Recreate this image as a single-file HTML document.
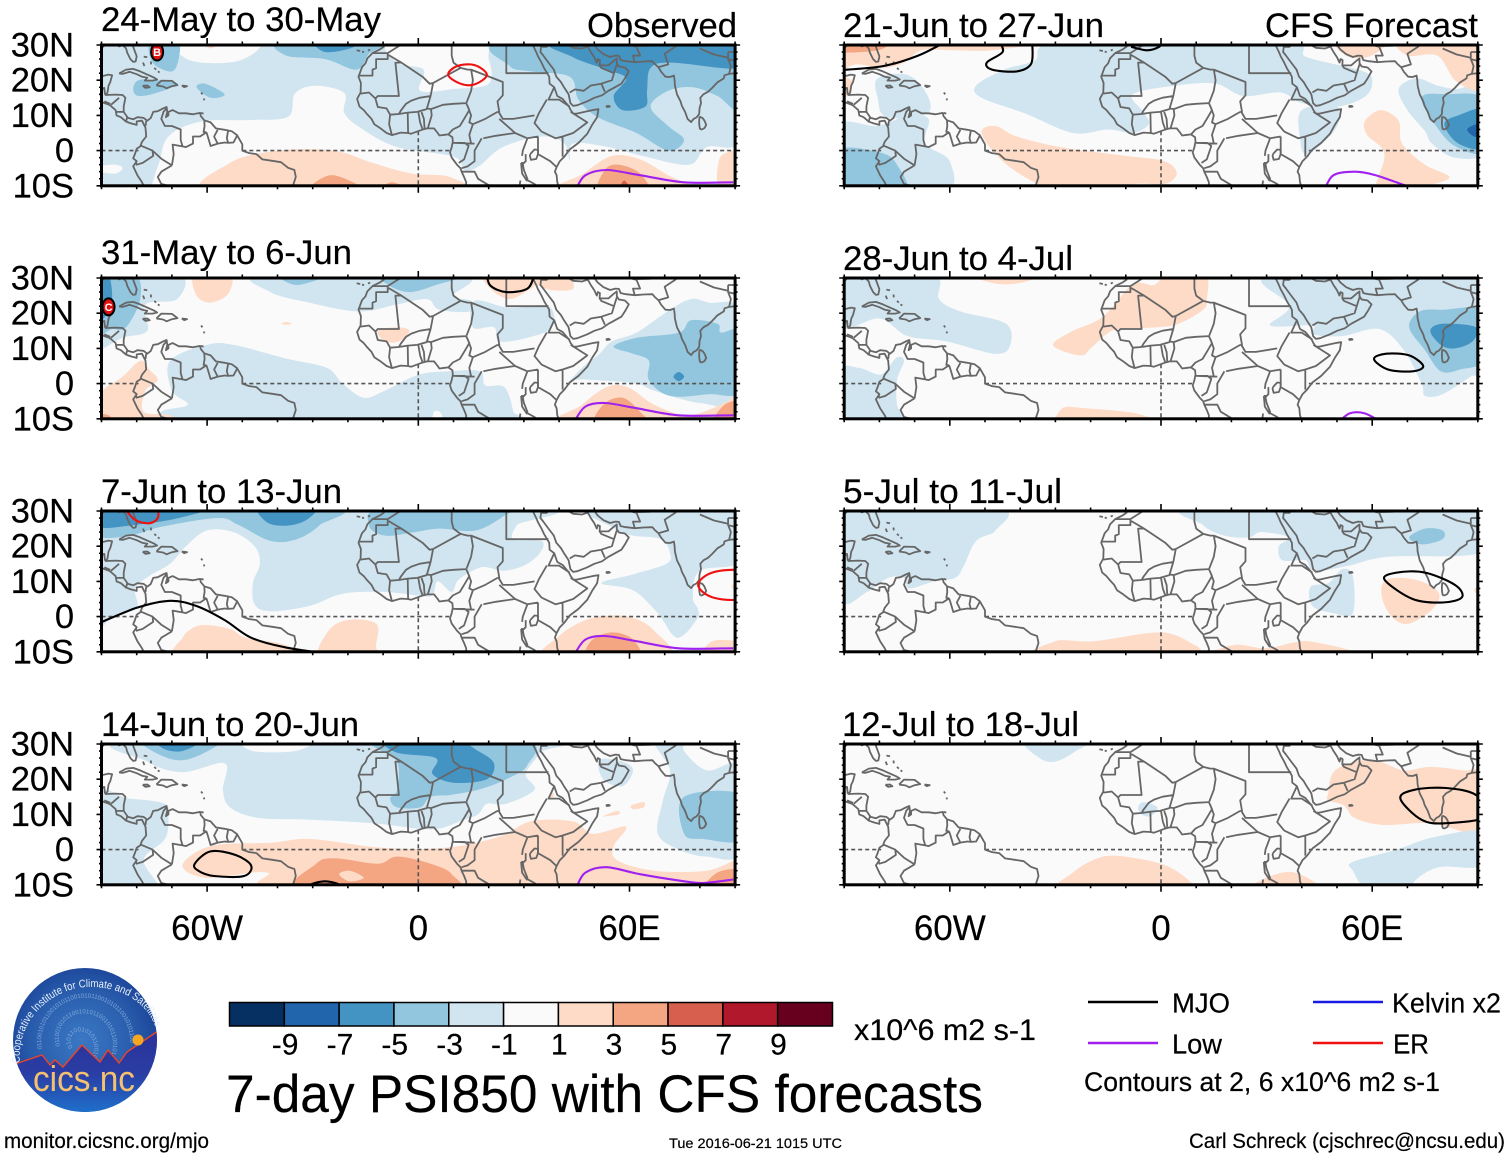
<!DOCTYPE html>
<html lang="en">
<head>
<meta charset="utf-8">
<title>7-day PSI850 with CFS forecasts</title>
<style>
html,body{margin:0;padding:0;background:#fff;}
svg{display:block;}
text{font-family:"Liberation Sans",Arial,sans-serif;fill:#000;stroke:#000;stroke-width:.2px;}
</style>
</head>
<body>
<svg id="chart" xmlns="http://www.w3.org/2000/svg" width="1510" height="1158" viewBox="0 0 1510 1158">
<rect x="0" y="0" width="1510" height="1158" fill="#fff"/>
<g id="panels"></g>
<g id="colorbar"></g>
<text x="854" y="1040" font-size="30" textLength="182" lengthAdjust="spacingAndGlyphs">x10^6 m2 s-1</text>
<text x="226" y="1112" font-size="53" textLength="757" lengthAdjust="spacingAndGlyphs">7-day PSI850 with CFS forecasts</text>
<g>
<line x1="1088" x2="1158" y1="1002" y2="1002" stroke="#000" stroke-width="2.6"/>
<text x="1172" y="1012.5" font-size="28" textLength="58" lengthAdjust="spacingAndGlyphs">MJO</text>
<line x1="1088" x2="1158" y1="1043" y2="1043" stroke="#a020f0" stroke-width="2.6"/>
<text x="1172" y="1053.5" font-size="28" textLength="50" lengthAdjust="spacingAndGlyphs">Low</text>
<line x1="1313" x2="1383" y1="1002" y2="1002" stroke="#1a1ae6" stroke-width="2.6"/>
<text x="1392" y="1012.5" font-size="28" textLength="109" lengthAdjust="spacingAndGlyphs">Kelvin x2</text>
<line x1="1313" x2="1383" y1="1043" y2="1043" stroke="#f01010" stroke-width="2.6"/>
<text x="1393" y="1053.5" font-size="28" textLength="36" lengthAdjust="spacingAndGlyphs">ER</text>
<text x="1084" y="1091" font-size="27" textLength="356" lengthAdjust="spacingAndGlyphs">Contours at 2, 6 x10^6 m2 s-1</text>
</g>
<text x="4" y="1148" font-size="21" textLength="205" lengthAdjust="spacingAndGlyphs">monitor.cicsnc.org/mjo</text>
<text x="669" y="1148" font-size="14" textLength="173" lengthAdjust="spacingAndGlyphs">Tue 2016-06-21 1015 UTC</text>
<text x="1189" y="1148" font-size="21" textLength="316" lengthAdjust="spacingAndGlyphs">Carl Schreck (cjschrec@ncsu.edu)</text>
<g>
<defs>
<radialGradient id="logoSky" cx="0.48" cy="0.5" r="0.6">
<stop offset="0" stop-color="#3a78c4"/><stop offset="0.55" stop-color="#2a5fae"/><stop offset="1" stop-color="#173c92"/>
</radialGradient>
<linearGradient id="logoLand" x1="0" y1="0" x2="0" y2="1">
<stop offset="0" stop-color="#2b2f98"/><stop offset="0.5" stop-color="#2a3ea4"/><stop offset="1" stop-color="#1c7ad2"/>
</linearGradient>
<clipPath id="logoClip"><circle cx="85" cy="1040" r="72"/></clipPath>
<path id="logoArc" d="M20 1063 C16 1020 52 988 88 987 C122 986 150 1004 157 1032"/>
<path id="logoSpiral" d="M73 1047 C66 1040 74 1028 84 1032 C96 1036 97 1052 90 1060 M60 1046 C54 1024 72 1010 90 1014 C108 1018 116 1036 112 1054 M42 1050 C36 1018 64 994 92 998 C116 1002 132 1022 130 1044"/>
</defs>
<circle cx="85" cy="1040" r="72" fill="url(#logoSky)"/>
<text font-size="6" style="fill:#7fa8da;stroke:none"><textPath href="#logoSpiral">0101100101011001010110010101100101011001010110010101100101011001010110010101100101011001010110010101100101011001010110010101100101</textPath></text>
<g clip-path="url(#logoClip)">
<path d="M10 1066 L18 1063 L42 1055 L50 1065 L55 1060 L63 1067 L82 1045 L100 1062 L108 1050 L119 1063 L127 1052 L155 1033 L165 1028 L165 1120 L10 1120 Z" fill="url(#logoLand)" stroke="#e8452a" stroke-width="1.4"/>
</g>
<circle cx="138" cy="1040" r="5.5" fill="#f5a623"/>
<text font-size="11" textLength="198" lengthAdjust="spacingAndGlyphs" style="fill:#e6f0fb;stroke:none"><textPath href="#logoArc">Cooperative Institute for Climate and Satellites</textPath></text>
<text x="33" y="1091" font-size="36" textLength="102" lengthAdjust="spacingAndGlyphs" style="fill:#f5c070;stroke:none">cics.nc</text>
</g>
</svg>
<script>
const panelTitles = ['24-May to 30-May','31-May to 6-Jun','7-Jun to 13-Jun','14-Jun to 20-Jun','21-Jun to 27-Jun','28-Jun to 4-Jul','5-Jul to 11-Jul','12-Jul to 18-Jul'];
const latTickLabels = ['30N','20N','10N','0','10S'];
const latTickValues = [30,20,10,0,-10];
const lonTickLabels = ['60W','0','60E'];
const lonTickValues = [-60,0,60];
const colorbarTicks = [-9,-7,-5,-3,-1,1,3,5,7,9];
const colorScale = ['#053061','#2166ac','#4393c3','#92c5de','#d1e5f0','#fafafa','#fddbc7','#f4a582','#d6604d','#b2182b','#67001f'];
const contourColors = {MJO:'#000000',Low:'#a020f0',ER:'#f01010'};

/* filled anomaly areas: [level, [lon,lat, lon,lat, ...]] painted in order */
const shadesA = [
[-2,[-91,31,92,31,92,3.5,82,1,77,-4,64.5,-1.7,54,1,44,2,43,-2.7,41.5,2,35,4,24,1,17,-4.6,13,-5.5,10,-1.7,-6,1,-15.6,5.9,-21,10.6,-21,16.3,-29,18.4,-35,16.3,-37,9.6,-48,8.7,-62,8.2,-71,4,-74,-4.5,-78,-12,-91,-12]],
[0,[-8,31,-6,25,1.5,23,0.5,17,10,17.5,20,19,20,26,17,31]],
[0,[-68.5,31,-64.5,25.5,-51,25.5,-45.5,31]],
[0,[-90.5,-4.5,-86,-4,-84,-5,-86,-6.5,-90,-6]],
[-4,[25,31,26,24,32,22.5,43,21,45.5,14.5,51,9.5,62,5,71,0,75.5,3,71,7,66,12.5,71,17,78,18,85,15.5,92,11.5,92,31]],
[-4,[-39,31,-37.5,27,-26.5,26,-17.5,23,-14,27.5,-10,31]],
[-4,[-76,31,-75.5,25,-70,22.5,-68,26.5,-68.5,31]],
[-4,[-81,17.5,-79.5,15.5,-74,16.5,-68.5,19,-74,20,-79.5,20]],
[-4,[-63,18,-60.5,19,-55,16,-59,15]],
[-6,[40,31,92,31,92,23.5,72,25,66,23.5,65,17,64.5,12.5,58,11.5,55.5,15.5,59,20.5,53.5,23,44,26.5]],
[-6,[-29,31,-26.5,28,-19.5,29,-17,31]],
[2,[-62,31,-59,29,-56.5,31]],
[2,[-58,-12,-53.5,-3.5,-40,0,-24,0,-13,-3.5,-2,-6.5,9,-7.5,9.5,-12]],
[2,[39.5,-12,47,-6.5,55,-1.5,63,-2.5,71,-7,78,-10,82,-12]],
[2,[85.5,-2.5,89.5,0,92,0,92,-12,85.5,-12]],
[4,[-31,-12,-25,-7,-15.5,-10.5,-14,-12]],
[4,[-11.5,-12,-7.5,-9,-2,-12]],
[4,[51.5,-12,53,-5.5,57,-4,63,-6.5,65,-12]],
[6,[57,-12,58.5,-8.5,60.5,-12]]
];
const shadesB = [
[-2,[-91,31,-68,31,-68.5,24,-77.5,22.5,-77,15,-84,13,-89.5,10,-91,10]],
[-2,[-44,31,-42,26,-31,23,-17,20.5,-6,22.5,2.5,24,6,21,15,20.5,15,23.5,10,25,12,31]],
[-2,[16,23.5,15.5,16,21.5,16,23,12,31,13,38,16,37,22,26,21.5]],
[-2,[42,-0.5,46.5,4.5,51.5,8.5,55,12,62,14.5,71.5,21,77.5,24,82.5,23,92,20.5,92,-4.5,80,-5.5,67,-2,62,0,50,1,44,1]],
[-2,[-70.5,6.5,-60,11,-52.5,11,-37,7,-26,4.5,-21.5,0,-15.5,-4,-9.5,-2,0,2.5,8.5,3.5,17.5,3.5,19,-0.5,24.5,-1,27,-8,27,-12,-69,-12,-73,-8,-65.5,-6,-70,-2]],
[0,[4,-12,4.5,-8,6.5,-8.5,7,-12]],
[-4,[-91,31,-80.5,31,-79,24,-83,16,-87,15.5,-91,15]],
[-4,[-39.5,31,-34.5,28,-26,31]],
[-4,[-9.5,31,-8.5,28,-2.5,26,5,28,13,31]],
[-4,[55.5,10.5,62,13,74,14.5,77.5,18,85,17,86,14.5,92,14.5,92,-2,82.5,-3,71.5,-3.5,65.5,1,65.5,6.5,61,8.5]],
[-6,[-91,31,-88,31,-87,24,-89,19,-91,19]],
[-6,[72.5,2,74,3.3,75.5,2,74,0.7]],
[2,[-63.5,31,-63,25,-59,23,-54,25.5,-53.5,31]],
[2,[-39,17,-37.5,17.5,-36,17,-37.5,16.7]],
[2,[-11.5,15,-6,16,-2.5,15,-5.5,12,-9.5,12]],
[2,[20,31,20.5,27,26,24,32,27,33.5,28,38,26.5,44,27,40.5,31]],
[2,[-91,-3.5,-84,2,-79,6.5,-76.5,4,-74,1,-77.5,-2,-78,-8,-70.5,-9,-69,-12,-91,-12]],
[2,[40.5,-12,46.5,-6,53.5,-1,59.5,-1,67,-6,76.5,-9,86,-6,92,-3,92,-12]],
[4,[50.5,-12,52.5,-6,58,-4,63,-8,65,-12]],
[4,[83.5,-12,87,-6,92,-5.5,92,-12]],
[4,[-91,-9,-88,-9,-86,-12,-91,-12]]
];
const shadesC = [
[-2,[-91,31,32,31,28,26,27,22,35,21.5,34.5,18,30,14.5,24,13,18,14,11.5,10.5,9.5,7,5.5,10,4,6,0,6,-9.5,7,-21.5,6.5,-31,3,-42,1.5,-46.5,3.5,-47,9.5,-45,15,-46.5,20,-52.5,24,-60,24.5,-66,20,-70.5,15,-76.5,11.5,-80.5,8,-80,2.5,-87,0,-91,-1]],
[-2,[49,31,56,25,61,23,69,22,71.5,18,70.5,15,61,12,52,9.5,61,7.5,68,1,73.5,-6,79,-1,79.5,2,78,5.5,80,13,92,16,92,31]],
[-4,[-91,31,-25,31,-28,26,-34.5,22,-42,21.5,-51,26,-57,28,-73,25.5,-82,23,-91,23]],
[-4,[-14,26,-9.5,23,-1,24,6,25,16.5,24.5,25,29,27.5,31,-9.5,31]],
[-6,[-91,31,-61,31,-68,28,-81,26,-91,25.5]],
[-6,[-45,31,-42.5,26.5,-36,26,-31,28,-30,31]],
[2,[-67.5,-12,-67,-6,-62,-2.5,-53.5,-3.5,-49,-6,-38,-8,-34.5,-12]],
[2,[-28,-12,-25.5,-4,-20,-1,-12,-2,-12,-8,-13,-12]],
[2,[36.5,-12,40,-5.5,49,-0.5,59.5,0,67,-4,70.5,-12]],
[2,[81,-12,83.5,-7,92,-7.5,92,-12]],
[2,[92,10.5,89,8.5,92,6.5]],
[4,[48.5,-12,49,-7,55,-4.5,61,-6.5,62.5,-12]]
];
const shadesD = [
[-2,[-79.5,31,-77,25,-67,22,-55,24.5,-55.5,17,-53.5,12,-45.5,9,-30.5,8.5,-13,7.5,-0.5,6,6,6,13,8.5,17,10,19.5,13,25,13,33,17,30.5,21.5,34.5,27.5,34.5,31]],
[0,[-49,31,-47,28,-35,28,-30.5,31]],
[-2,[-91,15,-82,14.5,-72,13,-71,9,-72,3,-78,-3,-74,-12,-91,-12]],
[-2,[51.5,25.5,52.5,20,58,18,61,22.5,58,25]],
[-2,[67,31,71.5,22.5,69.5,14,68,4.5,74,0,82,-2,92,-0.5,92,23.5,82,22.5,75.5,28,75.5,31]],
[-4,[-78,31,-72.5,26.5,-66,25.5,-58,29,-57,31]],
[-4,[-11.5,31,-6,25,-6,17,-8,14.5,-6,12,0.5,12,3.5,15,9,15.5,17,17,25,20,31,24,30,31]],
[-4,[75.5,15,92,15.5,92,3,81,3,75.5,4.5]],
[-6,[-74,31,-72,28.5,-67,28,-62,31]],
[-6,[-9,31,-6,27.5,5,26,4,21.5,10,19,19.5,20,21.5,24.5,17,28,10,31]],
[2,[-67,-4.5,-59,1,-41.5,2,-30.5,3,-10,0.5,7.5,0.5,22.5,3.5,32,8,44,8,49.5,4.5,59,6.5,55.5,1,56.5,-3,67,-6,82,-6,92,-3,92,-12,-34.5,-12,-43,-6.5,-60,-8]],
[2,[52.5,9.5,56.5,11,57,10,53.5,9.5]],
[2,[60.5,12.5,64,13.5,64,12,61,11.5]],
[2,[37,15,38,16.5,38.5,15]],
[4,[-34,-12,-29,-4,-23.5,-2.5,-11.5,-4,-6,-2,3.5,-4,9.5,-7,9,-12]],
[2,[-22.5,-7,-19.5,-6,-15.5,-8,-19.5,-9]],
[4,[81,-12,85,-6.5,92,-6,92,-12]]
];
const shadesE = [
[-2,[-52.5,18.5,-44.5,23,-36,25.5,-27.5,31,34,31,41.5,26.5,57.5,22.5,60,19,57.5,15,50,12.5,40,13.5,34,16.5,23.5,15.5,15.5,19,4.5,18.5,-8,16,-5,11,-3.5,7.5,-8,5,-15,6,-25,5,-38.5,10.5,-51,15]],
[-2,[39.5,3.5,40,11.5,50,12.5,49.5,6,41.5,-1]],
[-2,[-80.5,20.5,-72,21.5,-66.5,16,-66.5,10.5,-78,9.5,-80.5,15]],
[-2,[-92,7,-80.5,7,-72,10,-66,9,-67,2,-60,-3,-62,-12,-92,-12]],
[-2,[67.5,17.5,72.5,20.5,78.5,18.5,84,17.5,92,18,92,0,83.5,-2,77,2,75,5.5,70,11.5]],
[-4,[-92,0,-80,-0.5,-75,-4,-73,-12,-92,-12]],
[-4,[74,15,81,16,92,14.5,92,0,84,1,78.5,6.5]],
[-6,[80.5,7.5,84.5,10,92,11.5,92,1,84.5,2]],
[-8,[87,6,89.5,7.5,92,7.5,92,4,89,4]],
[2,[-92,31,-37,31,-47.5,28.5,-59.5,28.5,-68,28.5,-73,25,-79,23.5,-86.5,24.5,-92,23]],
[4,[-92,31,-78,31,-80.5,28.5,-92,28]],
[2,[-92,20.5,-88,20,-88.5,16,-92,15]],
[2,[-51,5,-47,7,-41,4,-28.5,1,-10,-1.5,1,-3,4.5,-6.5,1,-9.5,-8,-9.5,-26,-12,-35,-9.5,-45,-3]],
[2,[58,8.5,62.5,11.5,67.5,8.5,68.5,2,75,-4,82,-7.5,76,-10,70,-12,61,-12,63.5,-1,58.5,4.5]],
[2,[50,31,52.5,27,58.5,26.5,63.5,29.5,63.5,31]],
[2,[68.5,31,70,27,78.5,27,83.5,20,89.5,17,92,18,92,31]]
];
const shadesF = [
[-2,[-91,31,-65,31,-63,24,-57,20.5,-44,17,-43,10.5,-47.5,8.5,-61,12,-72,13.5,-80,18.5,-91,16]],
[-2,[-91,3.5,-86,4.5,-80,2.5,-77.5,4.5,-75,7.5,-73,6.5,-75,1,-75,-6,-73.5,-12,-91,-12]],
[-2,[31.5,31,36.5,22,31,16.5,43,16.5,43,14,51.5,13.5,62,15.5,69,9.5,74,0,75,-3.5,80,-3,88,2,92,4.5,92,31]],
[-4,[70.5,16,73.5,20.5,80,21,92,20.5,92,7,85,4,79.5,3.5,75,9.5]],
[-6,[76.5,15,80,17,89.5,16,88.5,12,83.5,10,79.5,11]],
[2,[-53,31,-47.5,28.5,-40.5,28.5,-34.5,31]],
[2,[-8.5,28,-5,28.5,-2,28,2.5,31,12.5,31,13,24,12,21,5,17,-1,16,-12,15.5,-15.5,14,-20,10,-22.5,8,-28.5,9.5,-30.5,11.5,-25,15,-16.5,19]],
[2,[-28,-7,-21.5,-7,-7,-8.5,-0.5,-12,-27.5,-12]]
];
const shadesG = [
[-2,[-91,31,-46.5,31,-47,24.5,-52.5,21.5,-56,14.5,-58.5,11,-64.5,10,-71.5,8,-73,11,-77.5,11,-83.5,7,-91,5]],
[-2,[11,31,12,26,18,23,25,22.5,28.5,24,36.5,22.5,33.5,20,34.5,16,41,16,43.5,13,53.5,14.5,64.5,17,92,18.5,92,31]],
[-2,[42.5,8.5,47.5,9.5,51.5,13.5,54.5,11.5,54.5,1,49,1,43,3]],
[-4,[70.5,22.5,75,25,80,24.5,80,22,74,20.5]],
[2,[63,9.5,67,11,74,10,79,6.5,77,2,70.5,-2,66,-0.5,63,4.5]],
[2,[92,9.5,89,7.5,92,5]],
[2,[-31,-12,-30,-7,-19,-7,0,-4.5,9.5,-8,13,-10,21.5,-8,30,-9,42,-7,52.5,-12]]
];
const shadesH = [
[-2,[-38.5,31,-34.5,26,-30,25,-24.5,27.8,-21,31]],
[-2,[-6.5,12,-5,13.5,-1,12,-3,9.5,-5.5,10]],
[2,[47.5,16,49,22,55,25,62,25,69,22.5,76.5,23.5,86,22.5,92,21.5,92,5,76.5,7.5,63,7,55,9,52,12.5,47.5,14]],
[2,[-27.5,-12,-25,-6.5,-16.5,-2,-7,-2.5,2.5,-5,9.5,-10,12,-12]],
[2,[25,-12,30,-8,38,-6.5,45.5,-12]],
[-2,[54.5,-3.5,67,0,77.5,3.5,92,5,92,-4.5,79,-5,72,-9,72,-12,59.5,-12,54.5,-6]]
];

/* contours: [wave type, closed?, [lon,lat, ...]] */
const contoursA = [
['Low',false,[45,-10.5,47.5,-7,53.5,-5.5,63,-7,75.5,-9,89.5,-9]],
['ER',true,[8.5,21.5,11,24,16,24.3,19.5,21.5,16,18.8,12,19]]
];
const contoursB = [
['Low',false,[44.5,-10.5,47.5,-6.5,53,-5.5,62,-7,74,-9,89.5,-9]],
['MJO',false,[19.5,31,20.5,27.8,25,26,31,27,33,31]]
];
const contoursC = [
['Low',false,[44.5,-10.5,47.5,-6.5,53,-5.5,62,-7,74,-9,89.5,-9]],
['ER',false,[-83.5,31,-80.5,27.5,-76.5,26.5,-74,28,-74,31]],
['ER',true,[79.5,9,83.5,12.5,92,13,98,9,92,5,83.5,5.5]],
['MJO',false,[-91,-2,-80,2.5,-70.5,4.5,-63,3,-55,-1,-47.5,-6,-38,-8.7,-28.5,-10.2,-25,-10.8]]
];
const contoursD = [
['Low',false,[45,-10.5,47.5,-6.5,53.5,-5,63,-7,75.5,-9,81,-9.5,89.5,-8.5]],
['MJO',true,[-63.5,-4,-59,-0.5,-52,-1.5,-47.5,-4.5,-49.5,-7.5,-58,-7.5,-62.5,-6]],
['MJO',true,[-30.5,-10,-26.5,-9,-22.5,-10,-26.5,-11]]
];
const contoursE = [
['MJO',false,[-92,22.8,-79,24,-69,27,-61,31]],
['MJO',false,[-46,31,-45,28,-49.5,25,-48,23,-41,22.5,-37,24.5,-36.5,29,-37,31]],
['MJO',false,[-8.5,29.5,-4,28.5,-0.5,29.5,0.5,31]],
['Low',false,[46.5,-11,49,-7,55,-6,61,-7,71,-10.5]],
['Low',false,[86.5,-10,90,-10]]
];
const contoursF = [
['MJO',true,[60.5,7,64,8.5,70.5,8,74.5,5,71.5,3.5,64.5,4]],
['Low',false,[50,-11.5,53.5,-8.5,58,-8.5,63.5,-11.5]]
];
const contoursG = [
['MJO',true,[63.5,10.5,67,12.5,75,12.5,83.5,9,85.5,5.5,80,4,71.5,5]]
];
const contoursH = [
['MJO',true,[68,14.5,72,17,81,17.5,89.5,15.5,93,9.5,81,7.5,74,8.5]]
];
const stormsA = [['B',-74.2,28]];
const stormsB = [['C',-88,21.8]];

const coastLines = [
[-9.8,31.5,-9.7,30,-9.8,29.5,-11,28.7,-13,27.7,-14.5,26.2,-15,24.8,-16,23.7,-17,21,-16.3,19.2,-16.4,16.5,-17.4,14.7,-16.7,12.5,-15.5,11.5,-14.7,10.5,-13.3,9,-12.5,7.5,-11,6.5,-9,5,-7.5,4.4,-5,5.1,-3,5,-2,4.8,1,5.9,2.5,6.3,4.5,6.3,5.5,5,6,4.3,7.5,4.5,8.5,4.6,9.7,3.8,9.8,2.5,9.5,1,9,-0.5,9.5,-2,11,-4,12,-5,12.3,-6,13,-7.5,13.6,-9,13.5,-12],
[40.5,-12,39.5,-9,39.3,-7,38.8,-6,39.3,-4.7,40.2,-3,41.5,-1.7,43,0.3,45.5,2.2,48,4.8,49.5,7.5,50.8,9.5,51.2,11.8,50,11.6,48,11.2,45,10.5,44,10.5,43.3,11.5,42.8,12.5,41,14.7,39.5,15.5,38.6,18,37.3,19,37.2,21,35.7,23.5,35,25,34,26.8,33.5,28,33,29,32.5,30,32.5,31],
[34.9,31,34.9,29.5,34.7,28,35.5,27,37,25,38.5,23,39.2,21,40.5,19.5,41.5,17.8,42.7,16,43.2,13.5,44,12.7,45.2,12.9,48,14,50,15,52.2,15.7,54,17,55.5,17.8,57.7,19,58.7,20.5,59.8,22.5,58.7,23.6,57,23.9,56.4,24.8,56.4,26.2,55.5,25.5,54,24.2,52.5,24.2,51.5,24.2,51.6,25.7,51,26,50.7,25,50,26.5,49,28,48,29.8,48.8,30.3,50,30,51,28.7,52.6,27.4,54.5,26.6,56,27,57,26.9,57.5,25.7,59,25.4,61.5,25.1,64,25.3,66.5,25.4,67.2,24.6,68.2,23.7,69,22.4,70.2,21,71.5,20.9,72.6,21.3,72.8,20,72.9,18.5,73.5,16,74.5,14,74.9,12.7,75.8,11,76.5,9,77.5,8.1,78.2,9,79,9.4,79.8,10.4,79.9,12,80.3,13.5,80.1,15,81,16,82.3,16.7,83.5,17.8,85,19.4,86.8,20.5,87,21.4,88.3,21.8,90,22,91.5,22.5,92,21],
[79.9,9.7,80.8,9.2,81.3,8.5,81.8,7.3,81.3,6.4,80.5,6,80,6.2,79.8,7.5,79.8,8.5,79.9,9.7],
[53.3,12.6,54.2,12.7,54.4,12.5,53.6,12.4,53.3,12.6],
[31.8,-1,33,0.3,34,0.2,34,-1,33.5,-2.4,32,-2.6,31.7,-1.5,31.8,-1],
[29.2,-3.5,29.5,-6.5,30.8,-8.5,31,-8,30,-5.5,29.6,-3.5,29.2,-3.5],
[-92,29.5,-90,29.1,-89,30,-86,30.4,-85,29.6,-84,30,-83,29,-82.7,27.8,-81.8,26,-81,25.2,-80.3,25.3,-80,26.8,-81,29.5,-81.5,31],
[-92,18.6,-91,19,-90.5,20,-90,21.1,-88,21.6,-87,21.4,-87.5,19.5,-88,18.4,-88.3,16.5,-88.8,15.8,-86,15.9,-84,15.8,-83.2,15,-83.7,12.5,-83.7,11,-82.5,9.3,-81,8.9,-79.8,9.5,-78,9.3,-77,8.5,-76,9.3,-75.3,11,-74,11.2,-72.5,12,-71.5,12.4,-71.3,11,-71.7,9.5,-71,10,-71,11,-69.8,11.5,-68,10.6,-66,10.6,-64,10.3,-62,10.7,-61.8,9.8,-60.8,8.6,-59,8,-57.5,6.3,-55,5.9,-53,5.5,-51.5,4.4,-50,1.8,-50,0,-48,-0.7,-46,-1,-44.3,-2.5,-41.5,-2.9,-39,-3.3,-37,-4.9,-35.2,-5.5,-34.8,-7.5,-35.5,-9.7,-36.8,-11,-38,-13],
[-92,14.5,-90,13.8,-88,13.1,-87.5,12.8,-86,11.5,-85.7,10,-84.5,9.5,-83,8.2,-81.5,7.7,-80,7.3,-80,8.3,-78.5,8.5,-78,7.5,-77.5,6.5,-77.3,4,-78.5,2.5,-79,1.2,-80,0.5,-80.5,-1,-81,-2.2,-80,-3,-81,-4.5,-79.8,-7,-78.5,-9,-77.5,-11,-76,-14],
[-85,21.9,-83,23,-81,23.2,-79,22.5,-77,21.6,-75,20.7,-74.2,20.2,-75.5,19.9,-77.7,19.9,-77,20.7,-78.5,21,-80,21.7,-82,22.4,-84,21.8,-85,21.9],
[-74.4,18.5,-73,19.9,-70,19.8,-68.4,18.6,-70,18.3,-71.5,17.7,-72.5,18.2,-74.4,18.5],
[-78.3,18.4,-77,18.5,-76.3,18,-77.5,17.8,-78.3,18.4],
[-67.2,18.5,-65.7,18.3,-66.5,18,-67.2,18.5],
[-78,26.7,-77,26.5],[-78.2,25,-77.8,24],[-76,25.3,-75.9,24.5],[-75,23.5,-74.5,23],[-74,22.5,-73.5,22.2],
[-61.7,16.5,-61.3,16],[-60.9,14.8,-60.8,14.3],
[-61.7,10.7,-61,10.5],
[-17.5,28.5,-16.5,28.3],[-16,28.1,-15.4,28],[-14.3,28.4,-13.7,28.7]
];
const borderLines = [
[-92,17.5,-91,17.2,-89.2,17.8,-89,15.9],[-89.2,14,-87.5,13.3],[-87.3,13,-85,15],[-85.7,11,-83.7,11],[-83,8.3,-82.7,9.5],[-77.5,7,-77.3,8.5],
[-71.5,12,-72.4,11,-73,9,-72,7,-70,7,-67.5,6,-67.5,3,-67,1.2],[-60.8,8.5,-60.7,7,-61,5.3,-60.2,5.2],[-60.2,5.2,-62,4,-64,4,-64,2,-66,1,-67,1.2],
[-60.2,5.2,-59.8,4,-59,1.3,-57,2,-55,2.3,-54,2.2,-52.5,2.3,-51.5,4.2],[-57,5.9,-58,4,-57,2],[-54,5.8,-54.4,3.5,-54,2.2],
[-67,1.2,-69.8,1.7,-69.5,-1,-70,-4.2],[-78.8,1.4,-75.5,0,-73,-2.3,-70,-4.2],[-75.5,0,-75.3,-1.5,-78.3,-3.5,-80,-4,-80.2,-3.4],[-70,-4.2,-73,-6,-74,-7.5,-73,-9.5,-71,-10,-70,-11],[-70,-11,-66,-10],
[-13,27.7,-8.7,27.7],[-8.7,27.7,-8.7,26,-12,26,-12,23.4,-13,23,-13,21.3,-17,21.3],[-8.7,27.3,-4.8,25,-6.5,25,-5.5,15.5,-9.3,15.5,-11.5,15.5,-12.2,14.8,-14,16.5,-16.4,16.2],[-8.7,27.7,-3.5,31],
[-4.8,25,1.2,21,3.2,19,4.2,19.2],[4.2,19.2,12,23.5],[12,23.5,10,25,9.5,27,9.5,30,10,31],[12,23.5,14,23,15,23,15.5,20,15,17,13.7,13.6],[15,23,24,19.5,24,15.7,22.5,14,23,11,22.5,11],[25,31,25,22,37,22],
[4.2,19.2,3.5,15.5,0.3,15],[0.3,15,-2,14.2,-3.5,13.3,-5,11.3,-5.5,10.4],[-12.2,14.8,-11.5,12.4,-9,12,-8,10.2,-5.5,10.4],[-8,10.2,-8.3,7.5,-7.5,4.4],[-5.5,10.4,-3,10.8,-0.3,11,2.4,11.8,3.5,15.5],[-2.9,5,-3,10.8],[1.2,6.1,0.5,8,0,11],[1.8,6.2,1.6,9,0.9,11],[2.7,6.3,3.8,10,3.6,11.8,2.4,12],[3.6,11.8,7,13,10,13.3,13.6,13.5],[13.6,13.5,14.5,11.5,13,9,11.8,7,9.8,6,8.6,4.7],
[14,12.7,15,10,14.5,8,15.5,7.5,19,9,22.5,11],[15.5,7.5,14.5,4.5,15,2,16,2],[12.3,-5,14,-4.5,16,-3,16,0,18,3.5],[18.5,3.5,22,4.2,27.5,5],[9.7,2.2,13.2,2.2,14.3,1.3,13,-2.5,11.5,-3.5],[9.8,2.2,16,2],
[22.8,11,24,9,27,9,33,10],[23,9,27.5,5],[27.5,5,31,3.5,34,4],[36.5,14.5,34.2,10.5,33,7.8,35,5.4],[38.6,18,37,14.5,40,14.5,43,12.5],[35,5.4,39,3.5,41,4],[41,4,41,-1.7],[41,4,44,5,48,8,43.3,11],[34,4,34,0,34,-1],[34,-1,37.5,-3,39.3,-4.7],[31,3.5,29.7,0,29.5,-1.5],[30.5,-1,30.5,-3,29.5,-4],[29,-8.5,28.5,-12],[30.8,-8.3,33,-9.5,34.5,-11],[12.3,-6,16,-6,17,-8,22,-11],[40.5,-10.5,37,-11.5],
[34.9,29.5,36.5,29.5,39,32],[39,32,44,29.2,46.5,29,48,29.5],[43,16.5,44.5,17.4,47,17,49,18.5,52,19,55,20,55.6,22,52,23.5,51.5,24.2],[52,19,53,16.7],[55.6,22,56.4,24.5],[61.5,25,61,27,63,27,62,29.5,60.8,29.8],[46,33,48,30],[68.2,23.7,71,24.5,70,27.5,73,29.5,74.5,31],[61,29.7,66,29.8,67,31],[80,29,84,27.3,88,26.4,88,28],[88.3,21.8,88.8,24,88,26,92,25,92.5,23,91.5,22.5],[79,31,81,30],[88,28,92,28],[92.5,21,93,25,97,28]
];
/* the dashed reference lines are only visible over ocean */
const equatorSegments = [[-90,-79.5],[-50,9],[42,90]];
const meridianSegment = [5.5,-10];

const allShades = [shadesA,shadesB,shadesC,shadesD,shadesE,shadesF,shadesG,shadesH];
const allContours = [contoursA,contoursB,contoursC,contoursD,contoursE,contoursF,contoursG,contoursH];
const allStorms = [stormsA,stormsB,[],[],[],[],[],[]];

const NS = 'http://www.w3.org/2000/svg';
const DEG = 3.52;
const panelTops = [45,278,511,744];
const panelLefts = [101.5,844.2];
const titleBox = [
[101,31,280],[101,264,251],[101,503,241],[101,736,258],
[843,37,261],[843,270,230],[843,503,219],[842,736,237]
];

function add(parent, tag, attrs){
  const e = document.createElementNS(NS, tag);
  for (const k in attrs) e.setAttribute(k, attrs[k]);
  parent.appendChild(e);
  return e;
}
function pairs(flat, xf, yf){
  const p = [];
  for (let i = 0; i < flat.length; i += 2) p.push([xf(flat[i]), yf(flat[i+1])]);
  return p;
}
function polyPath(pts){
  return 'M' + pts.map(p => p[0].toFixed(1) + ' ' + p[1].toFixed(1)).join('L');
}
function smoothPath(pts, closed){
  const n = pts.length;
  const at = i => closed ? pts[(i + n) % n] : pts[Math.max(0, Math.min(n - 1, i))];
  let d = 'M' + pts[0][0].toFixed(1) + ' ' + pts[0][1].toFixed(1);
  const last = closed ? n : n - 1;
  for (let i = 0; i < last; i++) {
    const p0 = at(i-1), p1 = at(i), p2 = at(i+1), p3 = at(i+2);
    const c1x = p1[0] + (p2[0]-p0[0])/6, c1y = p1[1] + (p2[1]-p0[1])/6;
    const c2x = p2[0] - (p3[0]-p1[0])/6, c2y = p2[1] - (p3[1]-p1[1])/6;
    d += 'C' + c1x.toFixed(1) + ' ' + c1y.toFixed(1) + ' ' + c2x.toFixed(1) + ' ' + c2y.toFixed(1) + ' ' + p2[0].toFixed(1) + ' ' + p2[1].toFixed(1);
  }
  return closed ? d + 'Z' : d;
}
function levelColor(level){
  return colorScale[Math.round((level + 10) / 2)];
}

const panelsRoot = document.getElementById('panels');
panelTitles.forEach((title, idx) => {
  const col = idx < 4 ? 0 : 1;
  const row = idx % 4;
  const left = panelLefts[col];
  const top = panelTops[row];
  const xOf = lon => left + (lon + 90) * DEG;
  const yOf = lat => top + (30 - lat) * DEG;
  const W = 180 * DEG, H = 40 * DEG;

  const g = add(panelsRoot, 'g', {});
  
  

  const clipId = 'clip' + idx;
  const cp = add(g, 'clipPath', {id: clipId});
  add(cp, 'rect', {x: left, y: top, width: W, height: H});

  const inner = add(g, 'g', {'clip-path': 'url(#' + clipId + ')'});
  const bg = add(inner, 'rect', {x: left, y: top, width: W, height: H, fill: colorScale[5]});
  
  

  allShades[idx].forEach(s => {
    const a = add(inner, 'path', {d: smoothPath(pairs(s[1], xOf, yOf), true), fill: levelColor(s[0])});
    
    
  });

  equatorSegments.forEach(seg => {
    const l = add(inner, 'line', {x1: xOf(seg[0]), x2: xOf(seg[1]), y1: yOf(0), y2: yOf(0), stroke: '#555', 'stroke-width': 1.6, 'stroke-dasharray': '4 3'});
    
    
  });
  const mer = add(inner, 'line', {x1: xOf(0), x2: xOf(0), y1: yOf(meridianSegment[0]), y2: yOf(meridianSegment[1]), stroke: '#555', 'stroke-width': 1.6, 'stroke-dasharray': '4 3'});
  
  

  const coast = add(inner, 'path', {d: coastLines.map(c => polyPath(pairs(c, xOf, yOf))).join(''), fill: 'none', stroke: '#666', 'stroke-width': 1.8, 'stroke-linejoin': 'round'});
  
  
  const borders = add(inner, 'path', {d: borderLines.map(c => polyPath(pairs(c, xOf, yOf))).join(''), fill: 'none', stroke: '#666', 'stroke-width': 1.8, 'stroke-linejoin': 'round'});
  
  

  allContours[idx].forEach(c => {
    const ct = add(inner, 'path', {d: smoothPath(pairs(c[2], xOf, yOf), c[1]), fill: 'none', stroke: contourColors[c[0]], 'stroke-width': 2.1});
    
    
  });

  allStorms[idx].forEach(s => {
    const sx = xOf(s[1]), sy = yOf(s[2]);
    const disc = add(inner, 'ellipse', {cx: sx, cy: sy, rx: 6, ry: 8.5, fill: '#e01010', stroke: '#000', 'stroke-width': 2});
    
    
    const st = add(inner, 'text', {x: sx, y: sy + 4, 'font-size': 11, 'text-anchor': 'middle', style: 'fill:#fff;stroke:none;font-weight:bold'});
    
    
    st.textContent = s[0];
  });

  /* ticks */
  let tk = '';
  for (let lon = -90; lon <= 90; lon += 10) {
    const major = lonTickValues.indexOf(lon) >= 0;
    const len = major ? 7 : 3.5;
    tk += 'M' + xOf(lon) + ' ' + (top - len) + 'V' + top + 'M' + xOf(lon) + ' ' + (top + H) + 'V' + (top + H + len);
  }
  for (let lat = -10; lat <= 30; lat += 2) {
    const major = latTickValues.indexOf(lat) >= 0;
    const len = major ? 5 : 2.5;
    tk += 'M' + (left - len) + ' ' + yOf(lat) + 'H' + left + 'M' + (left + W) + ' ' + yOf(lat) + 'H' + (left + W + len);
  }
  const ticks = add(g, 'path', {d: tk, stroke: '#000', 'stroke-width': 1.6, fill: 'none'});
  
  

  const frame = add(g, 'rect', {x: left, y: top, width: W, height: H, fill: 'none', stroke: '#000', 'stroke-width': 3});
  
  

  const box = titleBox[idx];
  const tt = add(g, 'text', {x: box[0], y: box[1], 'font-size': 34, textLength: box[2], lengthAdjust: 'spacingAndGlyphs'});
  
  
  tt.textContent = title;

  if (col === 0) {
    latTickLabels.forEach((lab, i) => {
      const t = add(g, 'text', {x: 74, y: yOf(latTickValues[i]) + 11.5, 'font-size': 34.5, 'text-anchor': 'end'});
      
      
      t.textContent = lab;
    });
  }
  if (row === 3) {
    lonTickLabels.forEach((lab, i) => {
      const t = add(g, 'text', {x: xOf(lonTickValues[i]), y: 940, 'font-size': 35, 'text-anchor': 'middle'});
      
      
      t.textContent = lab;
    });
  }
});

/* header tags */
const obs = add(panelsRoot, 'text', {x: 587, y: 37, 'font-size': 34, textLength: 150, lengthAdjust: 'spacingAndGlyphs'});


obs.textContent = 'Observed';
const cfs = add(panelsRoot, 'text', {x: 1265, y: 37, 'font-size': 34, textLength: 213, lengthAdjust: 'spacingAndGlyphs'});


cfs.textContent = 'CFS Forecast';

/* colorbar */
const cb = document.getElementById('colorbar');
const cbLeft = 229.5, cbTop = 1002.5, cbH = 23.5, cbW = 603 / colorScale.length;
colorScale.forEach((c, i) => {
  const r = add(cb, 'rect', {x: cbLeft + i * cbW, y: cbTop, width: cbW, height: cbH, fill: c, stroke: '#000', 'stroke-width': 1.5});
  
  
});
colorbarTicks.forEach((v, i) => {
  const t = add(cb, 'text', {x: cbLeft + (i + 1) * cbW + 0.8, y: 1054.5, 'font-size': 30, 'text-anchor': 'middle'});
  
  
  t.textContent = String(v);
});
</script>
</body>
</html>
